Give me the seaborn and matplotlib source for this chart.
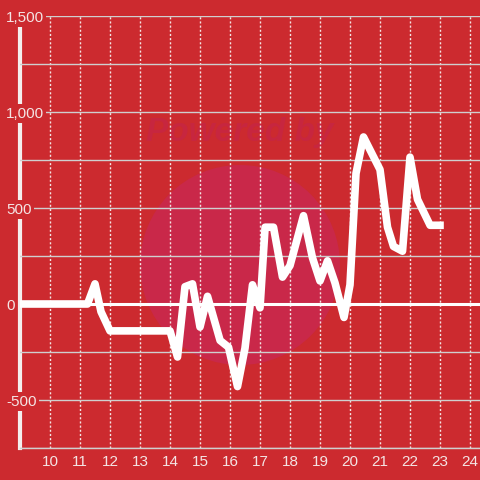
import numpy as np
import pandas as pd
import matplotlib
matplotlib.use('Agg')
import matplotlib.pyplot as plt
import seaborn as sns
from matplotlib.ticker import FixedLocator, FuncFormatter
from matplotlib.patches import Circle

hours = [9.0, 11.25, 11.5, 11.7, 12.0, 14.0, 14.25, 14.5, 14.75, 15.0,
         15.25, 15.67, 15.95, 16.25, 16.5, 16.75, 17.0, 17.17, 17.45, 17.75,
         18.0, 18.45, 18.75, 19.0, 19.25, 19.5, 19.8, 20.0, 20.2, 20.45,
         21.0, 21.25, 21.45, 21.75, 22.0, 22.25, 22.67, 23.0]
values = [0, 0, 105, -40, -140, -140, -276, 90, 105, -120,
          40, -190, -225, -430, -230, 100, -20, 400, 400, 140,
          200, 460, 240, 120, 225, 110, -70, 100, 680, 870,
          700, 400, 300, 275, 765, 545, 410, 410]
x_ticks = list(range(10, 25))
y_major = [-500, 0, 500, 1000, 1500]
y_minor = [-750, -250, 250, 750, 1250]

bg = '#cc2a2f'
txt = '#f4e4e4'

df = pd.DataFrame({'hour': hours, 'value': values})

plt.rcParams['font.family'] = ['Liberation Sans', 'DejaVu Sans']
fig = plt.figure(figsize=(4.8, 4.8), dpi=100, facecolor=bg)
ax = fig.add_axes([20 / 480, 1 - 448 / 480, 1 - 20 / 480, 432 / 480])
ax.set_facecolor(bg)

# watermark
fig.patches.append(Circle((0.5, 1 - 265 / 480), 100 / 480, transform=fig.transFigure,
                          facecolor='#c92849', edgecolor='none', zorder=0))
fig.text(0.5, 1 - 133 / 480, 'Powered by', ha='center', va='center', fontsize=24,
         fontweight='bold', fontstyle='italic', color='#c7263f', zorder=0.5)
ax.set_zorder(1)
ax.patch.set_alpha(0)

ax.set_xlim(9, 9 + 460 / 30)
ax.set_ylim(-750, 1500)

ax.xaxis.set_major_locator(FixedLocator(x_ticks))
ax.yaxis.set_major_locator(FixedLocator(y_major))
ax.yaxis.set_minor_locator(FixedLocator(y_minor))
ax.yaxis.set_major_formatter(FuncFormatter(lambda v, p: f'{int(v):,}'))

ax.grid(axis='y', which='both', color='#cfcfcf', lw=1.0)
ax.grid(axis='x', which='major', color='#f4e4e4', lw=1.0, linestyle=(0, (1.5, 1.5)))
ax.set_axisbelow(True)
ax.axhline(0, color='white', lw=2.2, zorder=1)

for s in ['top', 'right']:
    ax.spines[s].set_visible(False)
ax.spines['bottom'].set_color('#cfcfcf')
ax.spines['bottom'].set_linewidth(1.0)
ax.spines['left'].set_color('#f4eeee')
ax.spines['left'].set_linewidth(3)
ax.spines['left'].set_zorder(0.4)

sns.lineplot(data=df, x='hour', y='value', color='white', lw=5.5, ax=ax, zorder=2)
ax.set_xlabel('')
ax.set_ylabel('')

ax.tick_params(axis='both', which='both', length=0, labelsize=11, labelcolor=txt)
ax.tick_params(axis='x', pad=5)
ax.tick_params(axis='y', pad=10)
for lab in ax.get_yticklabels():
    lab.set_ha('left')
    lab.set_bbox(dict(facecolor=bg, edgecolor='none', pad=1.5))

fig.savefig('out.png', dpi=100, facecolor=bg)
